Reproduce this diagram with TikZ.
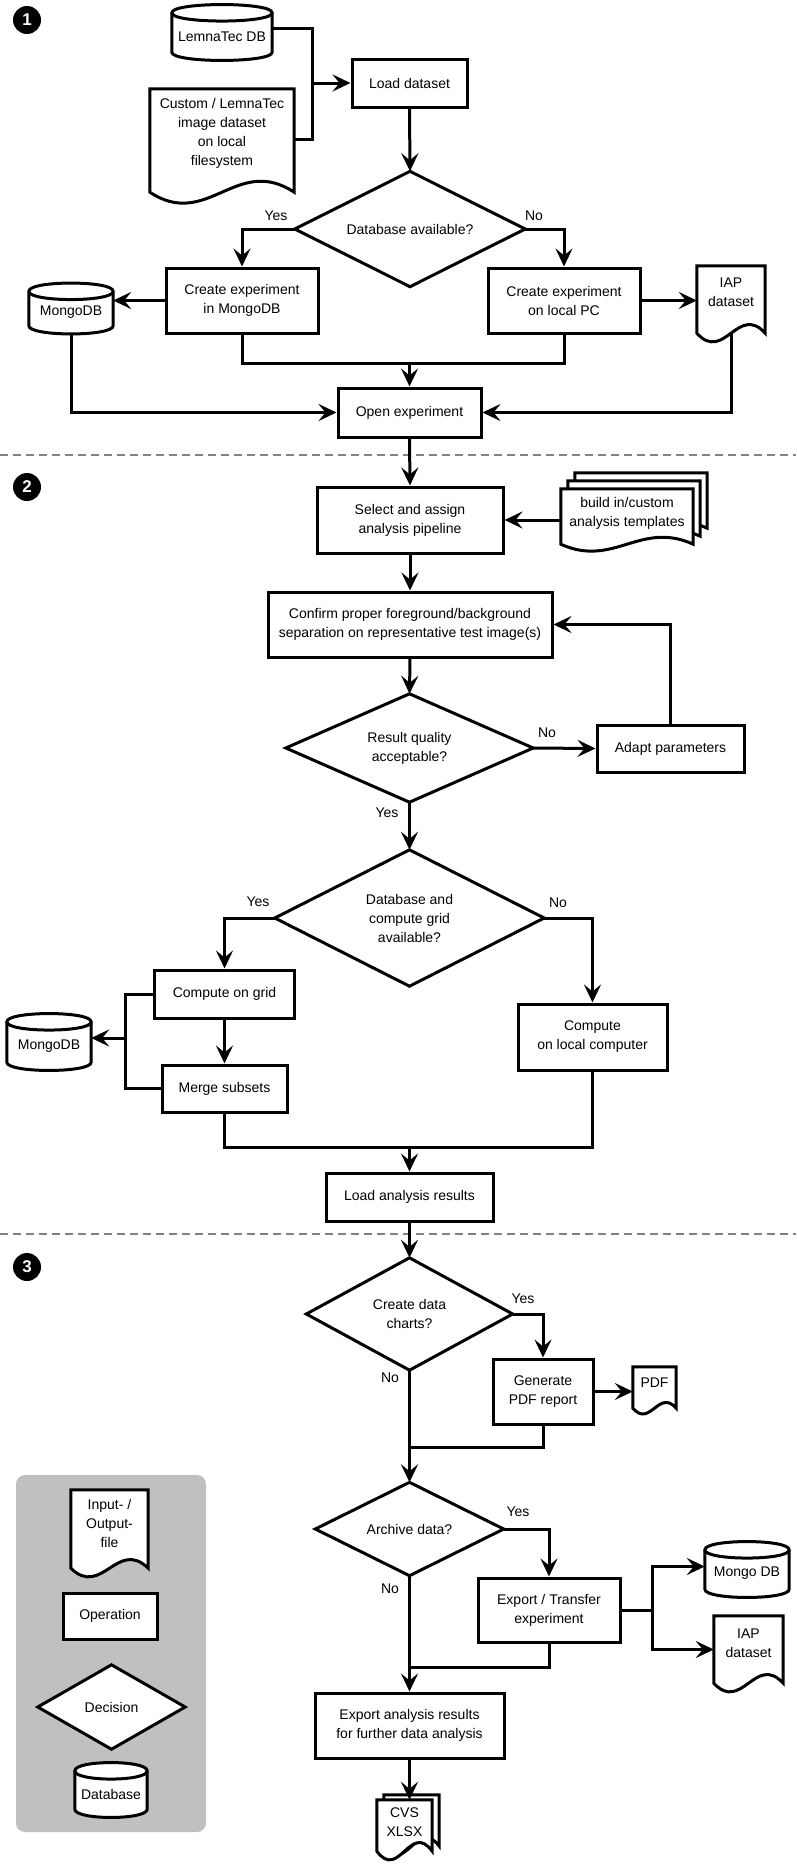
\documentclass[tikz,border=0pt]{standalone}
\usepackage{fontspec}
\setmainfont{Liberation Sans}
\usetikzlibrary{arrows.meta,calc}
\pgfdeclarelayer{bottom}
\pgfdeclarelayer{background}
\pgfsetlayers{bottom,background,main}
\definecolor{legendgray}{RGB}{192,192,192}
\definecolor{sepgray}{RGB}{130,130,130}

% document shape: node, side extension, wave strength, extra options
\newcommand\docshape[4]{%
  \draw[shp,#4] let \p1=(#1.south west), \p2=(#1.south east) in
    (#1.north west) -- (#1.north east) -- (\x2,\y2-#2)
    .. controls ({\x2-0.4*(\x2-\x1)},{\y2-#2+#3}) and ({\x1+0.4*(\x2-\x1)},{\y1-#2-#3}) .. (\x1,\y1-#2) -- cycle;
}
% database (cylinder) shape
\newcommand\dbshape[1]{%
  \draw[shp] ([yshift=8pt]#1.north west) .. controls ([yshift=19pt]#1.north west) and ([yshift=19pt]#1.north east) .. ([yshift=8pt]#1.north east)
    -- (#1.south east) .. controls ([yshift=-11pt]#1.south east) and ([yshift=-11pt]#1.south west) .. (#1.south west) -- cycle;
  \draw[shp,fill=none] ([yshift=8pt]#1.north west) .. controls ([yshift=-3pt]#1.north west) and ([yshift=-3pt]#1.north east) .. ([yshift=8pt]#1.north east);
}
% decision shape
\newcommand\decshape[1]{%
  \draw[shp] (#1.north) -- (#1.east) -- (#1.south) -- (#1.west) -- cycle;
}

\begin{document}
\begin{tikzpicture}[x=1pt,y=-1pt,
  font=\fontsize{14pt}{19pt}\selectfont,
  shp/.style={line width=3pt, fill=white, line join=miter},
  conn/.style={line width=3pt},
  arr/.style={conn, -{Stealth[length=18pt,width=17pt,inset=7pt]}},
  opbox/.style={draw, line width=3pt, fill=white, align=center, inner sep=0pt},
  bodyn/.style={inner sep=0pt, align=center},
  lbl/.style={inner sep=0pt},
  numc/.style={circle, fill=black, minimum size=28pt, inner sep=0pt, text=white, font=\bfseries\fontsize{17pt}{17pt}\selectfont},
  sep/.style={sepgray, line width=1.3pt, dash pattern=on 8pt off 5pt}
]
\useasboundingbox (0,0) rectangle (796,1866);

% ---------- section 1 ----------
\node[numc] (n1) at (27,20) {1};
\node[bodyn, minimum width=100pt, minimum height=31pt] (lemna) at (222,36.5) {LemnaTec DB};
\node[bodyn, minimum width=144pt, minimum height=88pt] (custom) at (222,133) {Custom / LemnaTec\\image dataset\\on local\\filesystem};
\node[opbox, minimum width=115pt, minimum height=48pt] (load) at (409.5,83) {Load dataset};
\node[bodyn, minimum width=230pt, minimum height=115pt] (dec1) at (410,229) {Database available?};
\node[opbox, minimum width=152pt, minimum height=65pt] (cexpm) at (242,300.5) {Create experiment\\in MongoDB};
\node[opbox, minimum width=152pt, minimum height=65pt] (cexpl) at (564,300.5) {Create experiment\\on local PC};
\node[bodyn, minimum width=84pt, minimum height=26pt] (mongoA) at (71,312.5) {MongoDB};
\node[bodyn, minimum width=68pt, minimum height=53pt] (iapA) at (731,292.5) {IAP\\dataset};
\node[opbox, minimum width=143pt, minimum height=49pt] (open) at (409.5,412.5) {Open experiment};
\node[lbl] (y1) at (276,216) {Yes};
\node[lbl] (no1) at (534,216) {No};

% ---------- section 2 ----------
\node[numc] (n2) at (27,487) {2};
\node[opbox, minimum width=186pt, minimum height=66pt] (sel) at (410,520) {Select and assign\\analysis pipeline};
\node[bodyn, minimum width=132pt, minimum height=48pt] (tmpl) at (627,513) {build in/custom\\analysis templates};
\node[opbox, minimum width=284pt, minimum height=65pt] (conf) at (410,624.5) {Confirm proper foreground/background\\separation on representative test image(s)};
\node[bodyn, minimum width=247pt, minimum height=108pt] (dec2) at (409.5,748) {Result quality\\acceptable?};
\node[opbox, minimum width=147pt, minimum height=47pt] (adapt) at (670.5,748.5) {Adapt parameters};
\node[lbl] (no2) at (547,733) {No};
\node[lbl] (y2) at (387,813) {Yes};
\node[bodyn, minimum width=269pt, minimum height=136pt] (dec3) at (409.5,918) {Database and\\compute grid\\available?};
\node[lbl] (y3) at (258,902) {Yes};
\node[lbl] (no3) at (558,903) {No};
\node[opbox, minimum width=140pt, minimum height=48pt] (grid) at (224.5,994) {Compute on grid};
\node[opbox, minimum width=125pt, minimum height=47pt] (merge) at (224.5,1088.5) {Merge subsets};
\node[bodyn, minimum width=84pt, minimum height=32pt] (mongoB) at (49,1046) {MongoDB};
\node[opbox, minimum width=149pt, minimum height=66pt] (local) at (592.5,1037) {Compute\\on local computer};
\node[opbox, minimum width=167pt, minimum height=48pt] (lres) at (409.5,1197) {Load analysis results};

% ---------- section 3 ----------
\node[numc] (n3) at (27,1267) {3};
\node[bodyn, minimum width=206pt, minimum height=112pt] (dec4) at (409.5,1314) {Create data\\charts?};
\node[lbl] (y4) at (523,1299) {Yes};
\node[lbl] (no4) at (390,1378) {No};
\node[opbox, minimum width=100pt, minimum height=65pt] (gen) at (543,1391.5) {Generate\\PDF report};
\node[bodyn, minimum width=43pt, minimum height=32pt] (pdf) at (654.5,1383) {PDF};
\node[bodyn, minimum width=188pt, minimum height=93pt] (dec5) at (409.5,1529) {Archive data?};
\node[lbl] (y5) at (518,1512) {Yes};
\node[lbl] (no5) at (390,1589) {No};
\node[opbox, minimum width=142pt, minimum height=64pt] (exp) at (549,1610) {Export / Transfer\\experiment};
\node[bodyn, minimum width=84pt, minimum height=31pt] (mongoC) at (747,1573.5) {Mongo DB};
\node[bodyn, minimum width=69pt, minimum height=55pt] (iapB) at (748.5,1643.5) {IAP\\dataset};
\node[opbox, minimum width=189pt, minimum height=65pt] (expa) at (409.5,1725.5) {Export analysis results\\for further data analysis};
\node[bodyn, minimum width=55pt, minimum height=45pt] (cvs) at (404.5,1822.5) {CVS\\XLSX};

% ---------- legend ----------
\node[bodyn, minimum width=77pt, minimum height=66pt] (lio) at (109.5,1523) {Input- /\\Output-\\file};
\node[opbox, minimum width=94pt, minimum height=46pt] (lop) at (110,1616) {Operation};
\node[bodyn, minimum width=147pt, minimum height=84pt] (ldec) at (111.5,1707) {Decision};
\node[bodyn, minimum width=72pt, minimum height=30pt] (ldb) at (111,1794) {Database};

% ---------- shapes ----------
\begin{pgfonlayer}{bottom}
  \fill[legendgray, rounded corners=9pt] (16,1475) rectangle (206,1832);
\end{pgfonlayer}
\begin{pgfonlayer}{background}
  \dbshape{lemna}
  \docshape{custom}{15pt}{38pt}{}
  \decshape{dec1}
  \dbshape{mongoA}
  \docshape{iapA}{14pt}{30pt}{}
  \docshape{tmpl}{7pt}{24pt}{transform canvas={shift={(14pt,16pt)}}}
  \docshape{tmpl}{7pt}{24pt}{transform canvas={shift={(7pt,8pt)}}}
  \docshape{tmpl}{7pt}{24pt}{}
  \decshape{dec2}
  \decshape{dec3}
  \dbshape{mongoB}
  \decshape{dec4}
  \docshape{pdf}{9pt}{20pt}{}
  \decshape{dec5}
  \dbshape{mongoC}
  \docshape{iapB}{12pt}{30pt}{}
  \docshape{cvs}{6pt}{30pt}{transform canvas={shift={(7pt,5pt)}}}
  \docshape{cvs}{6pt}{30pt}{}
  \docshape{lio}{12pt}{30pt}{}
  \decshape{ldec}
  \dbshape{ldb}
\end{pgfonlayer}

% ---------- separators ----------
\draw[sep] (0,455) -- (796,455);
\draw[sep] (0,1234) -- (796,1234);

% ---------- connectors section 1 ----------
\coordinate (j1) at (312,83);
\draw[conn] ([yshift=8pt]lemna.east) -| (j1) |- ([yshift=-6pt]custom.east);
\draw[arr] (j1) -- (load.west);
\draw[arr] (load.south) -- (dec1.north);
\draw[arr] (dec1.west) -| (cexpm.north);
\draw[arr] (dec1.east) -| (cexpl.north);
\draw[arr] (cexpm.west) -- (cexpm.west -| mongoA.east);
\draw[arr] (cexpl.east) -- (cexpl.east -| iapA.west);
\coordinate (m1) at (409.5,363);
\draw[conn] (cexpm.south) |- (cexpl.south |- m1) -- (cexpl.south);
\draw[arr] (m1) -- (open.north);
\draw[arr] ([yshift=-8pt]mongoA.south) |- (open.west);
\draw[arr] ([yshift=-14pt]iapA.south) |- (open.east);

% ---------- connectors section 2 ----------
\draw[arr] (open.south) -- (sel.north);
\draw[arr] (tmpl.west |- sel.east) -- (sel.east);
\draw[arr] (sel.south) -- (conf.north);
\draw[arr] (conf.south) -- (dec2.north);
\draw[arr] (dec2.east) -- (adapt.west);
\draw[arr] (adapt.north) |- (conf.east);
\draw[arr] (dec2.south) -- (dec3.north);
\draw[arr] (dec3.west) -| (grid.north);
\draw[arr] (dec3.east) -| (local.north);
\draw[arr] (grid.south) -- (merge.north);
\coordinate (b1) at (125,1038);
\draw[conn] (grid.west) -| (b1) |- (merge.west);
\draw[arr] (b1) -- (b1 -| mongoB.east);
\coordinate (m2) at (409.5,1147);
\draw[conn] (merge.south) |- (local.south |- m2) -- (local.south);
\draw[arr] (m2) -- (lres.north);

% ---------- connectors section 3 ----------
\draw[arr] (lres.south) -- (dec4.north);
\draw[arr] (dec4.east) -| (gen.north);
\draw[arr] (gen.east) -- (gen.east -| pdf.west);
\coordinate (m3) at (409.5,1447);
\draw[conn] (gen.south) |- (m3);
\draw[arr] (dec4.south) -- (dec5.north);
\draw[arr] (dec5.east) -| (exp.north);
\coordinate (b2) at (652,1610);
\draw[conn] (exp.east) -- (b2);
\draw[arr] (b2) |- ([yshift=7pt]mongoC.west);
\draw[arr] (b2) |- ([yshift=-6pt]iapB.west);
\coordinate (m4) at (409.5,1667);
\draw[conn] (exp.south) |- (m4);
\draw[arr] (dec5.south) -- (expa.north);
\draw[arr] (expa.south) -- (expa.south |- cvs.north);
\end{tikzpicture}
\end{document}
